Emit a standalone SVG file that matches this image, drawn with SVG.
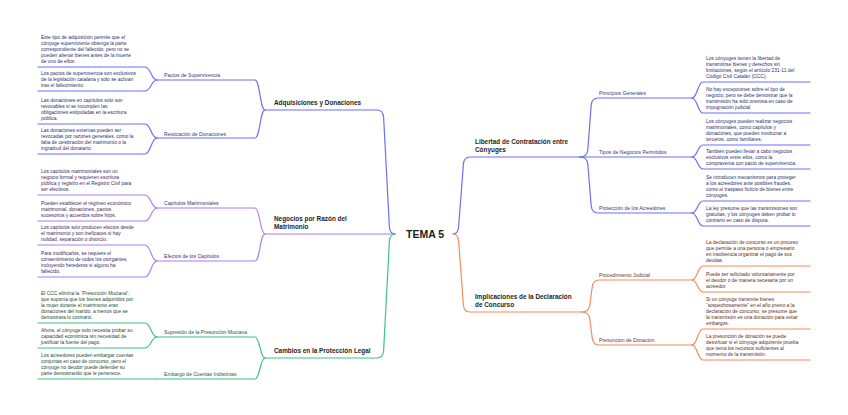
<svg xmlns="http://www.w3.org/2000/svg" width="848" height="415" viewBox="0 0 848 415">
<style>
text{font-family:"Liberation Sans",Arial,sans-serif}
.c{fill:none;stroke-width:1.2;stroke-linecap:round;stroke-linejoin:round}
.blue{stroke:#6b70f3}.purple{stroke:#ad7df2}.green{stroke:#3fc385}.orange{stroke:#f7895d}
.leaf{font-size:4.9px}
.node{font-size:5.1px}
.main{font-size:6.4px;font-weight:bold;fill:#1e1e1e}
.center{font-size:10.5px;font-weight:bold;fill:#1a1a1a}
.tb{fill:#2c2f6a}.tp{fill:#3b2a5c}.tg{fill:#1d4a33}.to{fill:#5a2d1b}
.nb{fill:#34387a}.np{fill:#45306a}.ng{fill:#215a3c}.no{fill:#6a3420}
</style>
<rect width="848" height="415" fill="#ffffff"/>
<g id="connectors">
<!-- main left -->
<path class="c blue" d="M265,110 L377,110 Q383,110 383.6,117 L389.4,227 Q390,234 395,234"/>
<path class="c purple" d="M265,234 L395,234"/>
<path class="c green" d="M265,358 L377,358 Q383,358 383.6,351 L389.4,241 Q390,234 395,234"/>
<!-- main right -->
<path class="c blue" d="M453,234 Q458,234 458.6,227 L463.4,164 Q464,157 470,157 L580,157"/>
<path class="c orange" d="M453,234 Q458,234 458.6,241 L463.4,305 Q464,312 470,312 L582,312"/>
<!-- left sub nodes -->
<path class="c blue" d="M157,80 L255,80 C260,80 260,110 265,110"/>
<path class="c blue" d="M157,138 L255,138 C260,138 260,110 265,110"/>
<path class="c purple" d="M157,208 L255,208 C260,208 260,234 265,234"/>
<path class="c purple" d="M157,261 L255,261 C260,261 260,234 265,234"/>
<path class="c green" d="M157,337 L255,337 C260,337 260,358 265,358"/>
<path class="c green" d="M157,379 L255,379 C260,379 260,358 265,358"/>
<!-- left leaves -->
<path class="c blue" d="M38,67 L145,67 C151,67 151,80 157,80"/>
<path class="c blue" d="M38,91 L145,91 C151,91 151,80 157,80"/>
<path class="c blue" d="M38,124 L145,124 C151,124 151,138 157,138"/>
<path class="c blue" d="M38,154 L145,154 C151,154 151,138 157,138"/>
<path class="c purple" d="M38,195 L145,195 C151,195 151,208 157,208"/>
<path class="c purple" d="M38,221 L145,221 C151,221 151,208 157,208"/>
<path class="c purple" d="M38,245 L145,245 C151,245 151,261 157,261"/>
<path class="c purple" d="M38,277 L145,277 C151,277 151,261 157,261"/>
<path class="c green" d="M38,323 L145,323 C151,323 151,337 157,337"/>
<path class="c green" d="M38,348 L145,348 C151,348 151,337 157,337"/>
<path class="c green" d="M38,379 L157,379"/>
<!-- right sub nodes -->
<path class="c blue" d="M580,157 Q587,157 587.8,150 L591.2,105 Q592,98 598,98 L692,98"/>
<path class="c blue" d="M580,157 L692,157"/>
<path class="c blue" d="M580,157 Q587,157 587.8,164 L591.2,206 Q592,213 598,213 L692,213"/>
<path class="c orange" d="M582,312 Q589,312 589.8,305 L592.2,287 Q593,280 599,280 L692,280"/>
<path class="c orange" d="M582,312 Q589,312 589.8,319 L592.2,338 Q593,345 599,345 L692,345"/>
<!-- right leaves -->
<path class="c blue" d="M692,98 C697.5,98 697.5,82 703,82 L810,82"/>
<path class="c blue" d="M692,98 C697.5,98 697.5,113 703,113 L810,113"/>
<path class="c blue" d="M692,157 C697.5,157 697.5,145 703,145 L810,145"/>
<path class="c blue" d="M692,157 C697.5,157 697.5,169 703,169 L810,169"/>
<path class="c blue" d="M692,213 C697.5,213 697.5,201 703,201 L810,201"/>
<path class="c blue" d="M692,213 C697.5,213 697.5,226 703,226 L810,226"/>
<path class="c orange" d="M692,280 C697.5,280 697.5,266 703,266 L810,266"/>
<path class="c orange" d="M692,280 C697.5,280 697.5,292 703,292 L810,292"/>
<path class="c orange" d="M692,345 C697.5,345 697.5,329 703,329 L810,329"/>
<path class="c orange" d="M692,345 C697.5,345 697.5,360 703,360 L810,360"/>
</g>

<g id="center"><text class="center" x="406" y="238">TEMA 5</text></g>

<g id="adquisiciones"><text class="main" x="274" y="104.5">Adquisiciones y Donaciones</text></g>
<g id="negocios"><text class="main" x="274" y="221"><tspan x="274">Negocios por Razón del</tspan><tspan x="274" dy="8">Matrimonio</tspan></text></g>
<g id="cambios"><text class="main" x="274" y="352.5">Cambios en la Protección Legal</text></g>
<g id="libertad"><text class="main" x="475" y="144"><tspan x="475">Libertad de Contratación entre</tspan><tspan x="475" dy="8">Cónyuges</tspan></text></g>
<g id="implicaciones"><text class="main" x="475" y="299"><tspan x="475">Implicaciones de la Declaración</tspan><tspan x="475" dy="8">de Concurso</tspan></text></g>

<g id="pactos"><text class="node nb" x="164" y="76.5">Pactos de Supervivencia</text></g>
<g id="revocacion"><text class="node nb" x="164" y="135.5">Revocación de Donaciones</text></g>
<g id="capitulos"><text class="node np" x="164" y="205">Capítulos Matrimoniales</text></g>
<g id="efectos"><text class="node np" x="164" y="258">Efectos de los Capítulos</text></g>
<g id="supresion"><text class="node ng" x="164" y="334">Supresión de la Presunción Muciana</text></g>
<g id="embargo"><text class="node ng" x="164" y="376">Embargo de Cuentas Indistintas</text></g>
<g id="principios"><text class="node nb" x="599" y="95">Principios Generales</text></g>
<g id="tipos"><text class="node nb" x="599" y="154">Tipos de Negocios Permitidos</text></g>
<g id="proteccion"><text class="node nb" x="599" y="210">Protección de los Acreedores</text></g>
<g id="procedimiento"><text class="node no" x="599" y="277">Procedimiento Judicial</text></g>
<g id="presuncion"><text class="node no" x="599" y="342">Presuncion de Donacion</text></g>

<g id="leaf-a1-1"><text class="leaf tb" y="39.4"><tspan x="41">Este tipo de adquisición permite que el</tspan><tspan x="41" dy="5.9">cónyuge superviviente obtenga la parte</tspan><tspan x="41" dy="5.9">correspondiente del fallecido, pero no se</tspan><tspan x="41" dy="5.9">pueden alienar bienes antes de la muerte</tspan><tspan x="41" dy="5.9">de uno de ellos.</tspan></text></g>
<g id="leaf-a1-2"><text class="leaf tb" y="75.2"><tspan x="41">Los pactos de supervivencia son exclusivos</tspan><tspan x="41" dy="5.9">de la legislación catalana y solo se activan</tspan><tspan x="41" dy="5.9">tras el fallecimiento.</tspan></text></g>
<g id="leaf-a2-1"><text class="leaf tb" y="102.3"><tspan x="41">Las donaciones en capítulos solo son</tspan><tspan x="41" dy="5.9">revocables si se incumplen las</tspan><tspan x="41" dy="5.9">obligaciones estipuladas en la escritura</tspan><tspan x="41" dy="5.9">pública.</tspan></text></g>
<g id="leaf-a2-2"><text class="leaf tb" y="132.3"><tspan x="41">Las donaciones externas pueden ser</tspan><tspan x="41" dy="5.9">revocadas por razones generales, como la</tspan><tspan x="41" dy="5.9">falta de celebración del matrimonio o la</tspan><tspan x="41" dy="5.9">ingratitud del donatario.</tspan></text></g>
<g id="leaf-b1-1"><text class="leaf tp" y="173.3"><tspan x="41">Los capítulos matrimoniales son un</tspan><tspan x="41" dy="5.9">negocio formal y requieren escritura</tspan><tspan x="41" dy="5.9">pública y registro en el Registro Civil para</tspan><tspan x="41" dy="5.9">ser efectivos.</tspan></text></g>
<g id="leaf-b1-2"><text class="leaf tp" y="205.2"><tspan x="41">Pueden establecer el régimen económico</tspan><tspan x="41" dy="5.9">matrimonial, donaciones, pactos</tspan><tspan x="41" dy="5.9">sucesorios y acuerdos sobre hijos.</tspan></text></g>
<g id="leaf-b2-1"><text class="leaf tp" y="229.2"><tspan x="41">Los capítulos solo producen efectos desde</tspan><tspan x="41" dy="5.9">el matrimonio y son ineficaces si hay</tspan><tspan x="41" dy="5.9">nulidad, separación o divorcio.</tspan></text></g>
<g id="leaf-b2-2"><text class="leaf tp" y="255.3"><tspan x="41">Para modificarlos, se requiere el</tspan><tspan x="41" dy="5.9">consentimiento de todos los otorgantes,</tspan><tspan x="41" dy="5.9">incluyendo herederos si alguno ha</tspan><tspan x="41" dy="5.9">fallecido.</tspan></text></g>
<g id="leaf-c1-1"><text class="leaf tg" y="295.4"><tspan x="41">El CCC elimina la “Presunción Muciana”,</tspan><tspan x="41" dy="5.9">que suponía que los bienes adquiridos por</tspan><tspan x="41" dy="5.9">la mujer durante el matrimonio eran</tspan><tspan x="41" dy="5.9">donaciones del marido, a menos que se</tspan><tspan x="41" dy="5.9">demostrara lo contrario.</tspan></text></g>
<g id="leaf-c1-2"><text class="leaf tg" y="332.2"><tspan x="41">Ahora, el cónyuge solo necesita probar su</tspan><tspan x="41" dy="5.9">capacidad económica sin necesidad de</tspan><tspan x="41" dy="5.9">justificar la fuente del pago.</tspan></text></g>
<g id="leaf-c2-1"><text class="leaf tg" y="357.3"><tspan x="41">Los acreedores pueden embargar cuentas</tspan><tspan x="41" dy="5.9">conjuntas en caso de concurso, pero el</tspan><tspan x="41" dy="5.9">cónyuge no deudor puede defender su</tspan><tspan x="41" dy="5.9">parte demostrando que le pertenece.</tspan></text></g>

<g id="leaf-d1-1"><text class="leaf tb" y="60.3"><tspan x="706">Los cónyuges tienen la libertad de</tspan><tspan x="706" dy="5.9">transmitirse bienes y derechos sin</tspan><tspan x="706" dy="5.9">limitaciones, según el artículo 231-11 del</tspan><tspan x="706" dy="5.9">Código Civil Catalán (CCC).</tspan></text></g>
<g id="leaf-d1-2"><text class="leaf tb" y="91.3"><tspan x="706">No hay excepciones sobre el tipo de</tspan><tspan x="706" dy="5.9">negocio, pero se debe demostrar que la</tspan><tspan x="706" dy="5.9">transmisión ha sido onerosa en caso de</tspan><tspan x="706" dy="5.9">impugnación judicial.</tspan></text></g>
<g id="leaf-d2-1"><text class="leaf tb" y="123.3"><tspan x="706">Los cónyuges pueden realizar negocios</tspan><tspan x="706" dy="5.9">matrimoniales, como capítulos y</tspan><tspan x="706" dy="5.9">donaciones, que pueden involucrar a</tspan><tspan x="706" dy="5.9">terceros, como familiares.</tspan></text></g>
<g id="leaf-d2-2"><text class="leaf tb" y="153.2"><tspan x="706">También pueden llevar a cabo negocios</tspan><tspan x="706" dy="5.9">exclusivos entre ellos, como la</tspan><tspan x="706" dy="5.9">compraventa con pacto de supervivencia.</tspan></text></g>
<g id="leaf-d3-1"><text class="leaf tb" y="179.3"><tspan x="706">Se introducen mecanismos para proteger</tspan><tspan x="706" dy="5.9">a los acreedores ante posibles fraudes,</tspan><tspan x="706" dy="5.9">como el traspaso ficticio de bienes entre</tspan><tspan x="706" dy="5.9">cónyuges.</tspan></text></g>
<g id="leaf-d3-2"><text class="leaf tb" y="210.2"><tspan x="706">La ley presume que las transmisiones son</tspan><tspan x="706" dy="5.9">gratuitas, y los cónyuges deben probar lo</tspan><tspan x="706" dy="5.9">contrario en caso de disputa.</tspan></text></g>
<g id="leaf-e1-1"><text class="leaf to" y="244.3"><tspan x="706">La declaración de concurso es un proceso</tspan><tspan x="706" dy="5.9">que permite a una persona o empresario</tspan><tspan x="706" dy="5.9">en insolvencia organizar el pago de sus</tspan><tspan x="706" dy="5.9">deudas.</tspan></text></g>
<g id="leaf-e1-2"><text class="leaf to" y="276.2"><tspan x="706">Puede ser solicitado voluntariamente por</tspan><tspan x="706" dy="5.9">el deudor o de manera necesaria por un</tspan><tspan x="706" dy="5.9">acreedor.</tspan></text></g>
<g id="leaf-e2-1"><text class="leaf to" y="301.4"><tspan x="706">Si un cónyuge transmite bienes</tspan><tspan x="706" dy="5.9">“sospechosamente” en el año previo a la</tspan><tspan x="706" dy="5.9">declaración de concurso, se presume que</tspan><tspan x="706" dy="5.9">la transmisión es una donación para evitar</tspan><tspan x="706" dy="5.9">embargos.</tspan></text></g>
<g id="leaf-e2-2"><text class="leaf to" y="338.3"><tspan x="706">La presunción de donación se puede</tspan><tspan x="706" dy="5.9">desvirtuar si el cónyuge adquirente prueba</tspan><tspan x="706" dy="5.9">que tenía los recursos suficientes al</tspan><tspan x="706" dy="5.9">momento de la transmisión.</tspan></text></g>
</svg>
